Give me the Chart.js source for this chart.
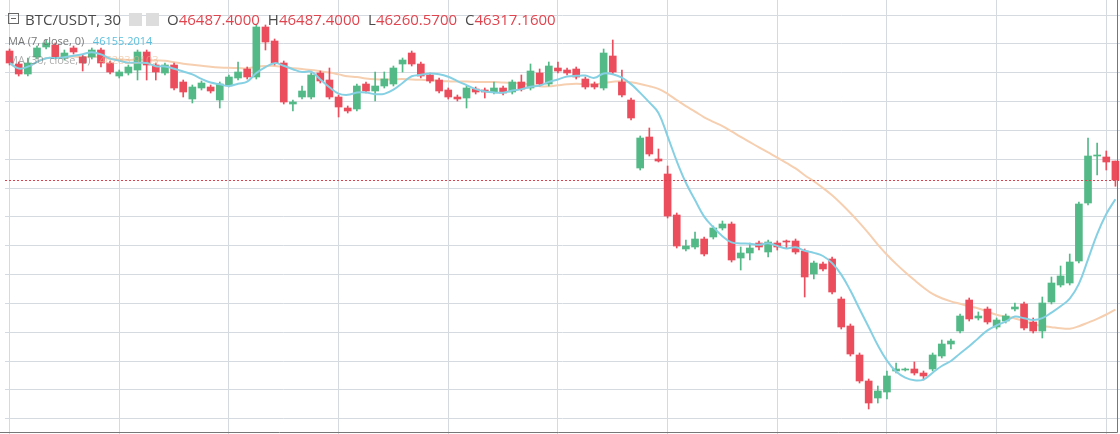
<!DOCTYPE html>
<html>
<head>
<meta charset="utf-8">
<script src="https://cdn.jsdelivr.net/npm/chart.js@4/dist/chart.umd.min.js"></script>
<style>
  html, body { margin: 0; padding: 0; background: #fff; }
  #wrap { position: relative; width: 1120px; height: 434px; font-family: "Open Sans", "DejaVu Sans", sans-serif; }
  #legend { position: absolute; left: 0; top: 0; pointer-events: none; }
  .row { position: absolute; white-space: nowrap; }
  .title { left: 8px; top: 9px; font-size: 15px; color: #4a4a4a; }
  .title .box { display: inline-block; width: 9px; height: 9px; border: 1px solid #666; margin-right: 6px; position: relative; top: -1px; }
  .title .box::after { content: ""; position: absolute; left: 2px; right: 2px; top: 4px; height: 1px; background: #666; }
  .title .ic { display: inline-block; width: 13px; height: 13px; background: #ddd; margin-left: 4px; vertical-align: -1px; }
  .title .lab { color: #4a4a4a; margin-left: 8px; }
  .title .val { color: #e0454f; }
  .ma { left: 8px; font-size: 11px; color: #777; }
  .ma7 { top: 33px; }
  .ma30 { top: 52px; }
</style>
</head>
<body>
<div id="wrap">
  <canvas id="chart"></canvas>
  <div id="legend">
    <div class="row title"><span class="box"></span>BTC/USDT, 30 <span class="ic"></span><span class="ic"></span><span class="lab">O</span><span class="val">46487.4000</span><span class="lab">H</span><span class="val">46487.4000</span><span class="lab">L</span><span class="val">46260.5700</span><span class="lab">C</span><span class="val">46317.1600</span></div>
    <div class="row ma ma7">MA (7, close, 0) &nbsp;&nbsp;<span style="color:#5bc0de">46155.2014</span></div>
    <div class="row ma ma30" style="opacity:0.6">MA (30, close, 0) &nbsp;&nbsp;<span style="color:#e8b48a">46283.9103</span></div>
  </div>
</div>
<script>
// 30-minute candles, oldest first
const opens = [47478,47361,47271,47424,47514,47532,47415,47505,47424,47424,47487,47370,47253,47280,47307,47469,47352,47280,47352,47199,
  47046,47145,47154,47037,47172,47235,47316,47244,47694,47568,47370,47001,47064,47064,47280,47217,47064,46965,46956,47181,
  47118,47163,47181,47361,47460,47361,47262,47217,47127,47064,47055,47136,47127,47109,47145,47109,47199,47145,47280,47181,
  47325,47307,47316,47226,47181,47145,47433,47199,47037,46425,46704,46506,46371,46002,45696,45714,45786,45804,45885,45921,
  45615,45660,45750,45669,45750,45768,45768,45678,45471,45561,45606,45246,45003,44742,44508,44355,44409,44598,44607,44616,
  44580,44616,44733,44841,44958,45237,45075,45156,44994,45048,45156,45201,45039,44958,45219,45372,45390,45588,46110,46533,
  46524,46487.4];
const highs = [47496,47379,47415,47523,47577,47550,47487,47523,47442,47505,47505,47388,47307,47352,47487,47487,47370,47370,47370,47217,
  47172,47208,47172,47199,47262,47379,47334,47712,47712,47586,47388,47037,47163,47280,47298,47325,47082,46983,47181,47199,
  47289,47289,47343,47415,47478,47379,47280,47235,47145,47082,47163,47154,47145,47199,47163,47217,47262,47361,47316,47379,
  47379,47325,47334,47244,47199,47496,47577,47307,47055,46713,46785,46596,46443,46020,45777,45849,45804,45903,45948,45939,
  45714,45750,45768,45777,45768,45777,45786,45696,45588,45579,45624,45264,45021,44760,44526,44463,44598,44670,44625,44679,
  44598,44760,44877,44886,45111,45255,45129,45174,45075,45111,45210,45219,45075,45264,45444,45543,45651,46119,46695,46650,
  46578,46487.4];
const lows = [47352,47253,47253,47406,47496,47406,47397,47451,47298,47406,47334,47271,47235,47262,47217,47217,47217,47262,47127,47064,
  47010,47127,47100,46965,47154,47217,47226,47226,47487,47352,47001,46938,47046,47046,47190,47046,46884,46920,46938,47100,
  47028,47145,47163,47289,47343,47235,47190,47100,47046,47028,46965,47091,47055,47091,47082,47091,47118,47127,47163,47163,
  47280,47262,47226,47136,47136,47127,47271,47064,46857,46407,46533,46479,45975,45705,45678,45696,45633,45786,45867,45579,
  45507,45597,45687,45624,45687,45705,45651,45264,45426,45498,45291,44976,44733,44490,44256,44310,44346,44580,44598,44562,
  44517,44598,44715,44796,44940,45048,45057,45021,44976,45030,45138,44967,44940,44895,45201,45354,45372,45570,46092,46362,
  46407,46260.57];
const closes = [47370,47271,47370,47505,47550,47424,47460,47469,47370,47487,47370,47289,47289,47334,47469,47352,47289,47352,47145,47109,
  47154,47190,47118,47181,47244,47289,47244,47694,47559,47370,47019,47019,47118,47262,47208,47064,46974,46938,47163,47118,
  47163,47226,47325,47397,47361,47253,47208,47118,47064,47046,47145,47109,47109,47145,47100,47199,47136,47298,47181,47343,
  47298,47280,47244,47154,47154,47460,47289,47082,46875,46695,46551,46488,45993,45723,45723,45786,45651,45885,45921,45597,
  45660,45705,45714,45759,45714,45759,45669,45444,45570,45516,45309,44994,44751,44508,44310,44418,44553,44616,44616,44580,
  44553,44742,44841,44868,45093,45066,45093,45039,45057,45093,45174,44985,44958,45210,45390,45453,45579,46101,46533,46542,
  46479,46317.16];
// horizontal price grid
const gridPrices = [47802,47542,47283,47023,46764,46504,46245,45985,45726,45466,45207,44947,44688,44428,44169];
const priceMin = 44031, priceMax = 47937;
const lastClose = 46317.16;

const UP = '#53b987', DOWN = '#eb4d5c';
const labels = opens.map((_, i) => i);

function movingAvg(n) {
  return closes.map((_, i) => {
    const s = closes.slice(Math.max(0, i - n + 1), i + 1);
    return s.reduce((a, b) => a + b, 0) / s.length;
  });
}

const candleColors = opens.map((o, i) => closes[i] >= o ? UP : DOWN);

const lastPricePlugin = {
  id: 'lastPrice',
  afterDatasetsDraw(chart) {
    const { ctx, chartArea, scales } = chart;
    const y = Math.round(scales.y.getPixelForValue(lastClose)) + 0.5;
    ctx.save();
    ctx.strokeStyle = '#d9434f';
    ctx.setLineDash([2, 2]);
    ctx.lineWidth = 1;
    ctx.beginPath();
    ctx.moveTo(chartArea.left, y);
    ctx.lineTo(chartArea.right, y);
    ctx.stroke();
    ctx.setLineDash([]);
    ctx.strokeStyle = '#777';
    ctx.beginPath();
    ctx.moveTo(chartArea.right - 2.5, 0);
    ctx.lineTo(chartArea.right - 2.5, chart.height - 1.5);
    ctx.lineTo(0, chart.height - 1.5);
    ctx.stroke();
    ctx.restore();
  }
};

new Chart(document.getElementById('chart'), {
  data: {
    labels,
    datasets: [
      {
        type: 'line', data: movingAvg(30), borderColor: '#f6cfb0', borderWidth: 2,
        pointRadius: 0, tension: 0.4, order: 3
      },
      {
        type: 'bar', data: lows.map((l, i) => [l, highs[i]]), backgroundColor: candleColors,
        barThickness: 1, grouped: false, order: 2
      },
      {
        type: 'bar', data: opens.map((o, i) => [o, o === closes[i] ? o + 3 : closes[i]]), backgroundColor: candleColors,
        barThickness: 7, grouped: false, order: 1
      },
      {
        type: 'line', data: movingAvg(7), borderColor: '#86d0e3', borderWidth: 2,
        pointRadius: 0, tension: 0.4, order: 0
      }
    ]
  },
  options: {
    responsive: true,
    maintainAspectRatio: false,
    animation: false,
    layout: { padding: { left: 5, right: 0, top: 0, bottom: 0 } },
    plugins: { legend: { display: false }, tooltip: { enabled: false } },
    scales: {
      x: {
        display: true,
        offset: true,
        border: { display: false },
        ticks: { display: false, autoSkip: false },
        grid: {
          offset: false, drawTicks: false,
          color: c => (c.index % 12 === 0 ? '#d5d9e0' : 'rgba(0,0,0,0)')
        }
      },
      y: {
        display: true,
        min: priceMin, max: priceMax,
        border: { display: false },
        afterBuildTicks: axis => { axis.ticks = gridPrices.map(v => ({ value: v })); },
        ticks: { display: false },
        grid: { color: '#d5d9e0', drawTicks: false }
      }
    }
  },
  plugins: [lastPricePlugin]
});
</script>
</body>
</html>
